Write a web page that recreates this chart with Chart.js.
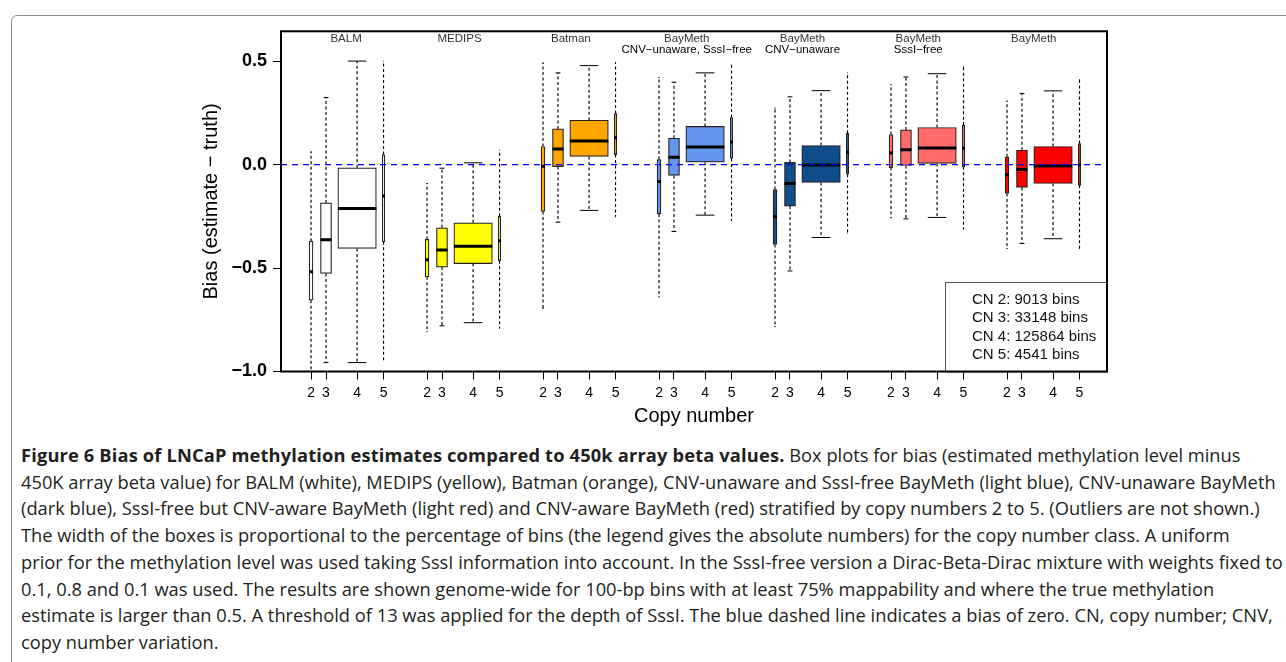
<!DOCTYPE html>
<html><head><meta charset="utf-8">
<script src="https://cdn.jsdelivr.net/npm/chart.js@4.4.1/dist/chart.umd.min.js"></script>
<style>
html,body{margin:0;padding:0;background:#fff;width:1286px;height:662px;overflow:hidden;}
#frame{position:absolute;left:11px;top:15px;width:1300px;height:720px;border:1.5px solid #8c8c8c;border-radius:6px;box-sizing:border-box;}
#wrap{position:absolute;left:0;top:0;width:1286px;height:440px;}
#caption{position:absolute;left:21px;top:442px;font-family:"Open Sans",sans-serif;font-size:18.3px;line-height:26.7px;color:#231f20;white-space:nowrap;}
#caption b{font-weight:700;letter-spacing:0.15px;}
</style></head><body>
<div id="frame"></div>
<div id="wrap"><canvas id="c" width="1286" height="440"></canvas></div>
<div id="caption">
<div><b>Figure 6 Bias of LNCaP methylation estimates compared to 450k array beta values.</b> Box plots for bias (estimated methylation level minus</div>
<div>450K array beta value) for BALM (white), MEDIPS (yellow), Batman (orange), CNV-unaware and SssI-free BayMeth (light blue), CNV-unaware BayMeth</div>
<div>(dark blue), SssI-free but CNV-aware BayMeth (light red) and CNV-aware BayMeth (red) stratified by copy numbers 2 to 5. (Outliers are not shown.)</div>
<div>The width of the boxes is proportional to the percentage of bins (the legend gives the absolute numbers) for the copy number class. A uniform</div>
<div>prior for the methylation level was used taking SssI information into account. In the SssI-free version a Dirac-Beta-Dirac mixture with weights fixed to</div>
<div>0.1, 0.8 and 0.1 was used. The results are shown genome-wide for 100-bp bins with at least 75% mappability and where the true methylation</div>
<div>estimate is larger than 0.5. A threshold of 13 was applied for the depth of SssI. The blue dashed line indicates a bias of zero. CN, copy number; CNV,</div>
<div>copy number variation.</div>
</div>
<script>
// ---------------- data ----------------
const groupTitles = ['BALM','MEDIPS','Batman','BayMeth','BayMeth','BayMeth','BayMeth'];
const groupSubtitles = ['','','','CNV\u2212unaware, SssI\u2212free','CNV\u2212unaware','SssI\u2212free',''];
const groupColors = ['#ffffff','#ffff00','#ffa500','#6495ed','#104e8b','#ff6a6a','#ff0000'];
const copyNumbers = ['2','3','4','5'];
const binCounts = [9013, 33148, 125864, 4541];
const whiskerMin = [
  [-1.000,-0.957,-0.957,-0.944],
  [-0.808,-0.779,-0.764,-0.791],
  [-0.695,-0.278,-0.221,-0.252],
  [-0.639,-0.323,-0.244,-0.271],
  [-0.783,-0.514,-0.352,-0.331],
  [-0.257,-0.262,-0.255,-0.312],
  [-0.405,-0.381,-0.358,-0.405]];
const quartile1 = [
  [-0.655,-0.526,-0.405,-0.373],
  [-0.542,-0.495,-0.478,-0.465],
  [-0.226,-0.009, 0.040, 0.049],
  [-0.238,-0.052, 0.012, 0.030],
  [-0.386,-0.200,-0.086,-0.046],
  [-0.014,-0.004, 0.006,-0.010],
  [-0.139,-0.110,-0.091,-0.100]];
const medians = [
  [-0.518,-0.363,-0.212,-0.151],
  [-0.460,-0.413,-0.394,-0.368],
  [-0.007, 0.076, 0.114, 0.130],
  [-0.081, 0.036, 0.086, 0.110],
  [-0.252,-0.091,-0.002, 0.060],
  [ 0.056, 0.072, 0.081, 0.080],
  [-0.049,-0.023,-0.006, 0.000]];
const quartile3 = [
  [-0.370,-0.185,-0.015, 0.049],
  [-0.361,-0.305,-0.281,-0.249],
  [ 0.088, 0.173, 0.215, 0.247],
  [ 0.025, 0.128, 0.185, 0.228],
  [-0.120, 0.011, 0.093, 0.152],
  [ 0.146, 0.168, 0.180, 0.191],
  [ 0.038, 0.070, 0.088, 0.102]];
const whiskerMax = [
  [ 0.062, 0.325, 0.501, 0.500],
  [-0.091,-0.017, 0.009, 0.070],
  [ 0.492, 0.444, 0.479, 0.494],
  [ 0.421, 0.399, 0.444, 0.482],
  [ 0.273, 0.328, 0.358, 0.444],
  [ 0.387, 0.424, 0.440, 0.476],
  [ 0.308, 0.344, 0.357, 0.412]];
const yTickValues = [-1.0, -0.5, 0.0, 0.5];
const yTickLabels = ['\u22121.0', '\u22120.5', '0.0', '0.5'];

// ---------------- layout / style ----------------
const cnOffset = [0, 0.129, 0.397, 0.625];
const groupLabelOffset = [0.302, 0.280, 0.240, 0.239, 0.237, 0.235, 0.231];
const X_MIN = 0.741, X_MAX = 7.862, Y_MIN = -1.0, Y_MAX = 0.645;
const MAX_BOX_PX = 37.3, BOX_BORDER = 1.2;
const maxCount = Math.max(...binCounts);
const boxPx = binCounts.map(n => MAX_BOX_PX * n / maxCount + BOX_BORDER);
const pos = (g, c) => g + 1 + cnOffset[c];

const tickPositions = [];
groupTitles.forEach((_, g) => copyNumbers.forEach((_, c) => tickPositions.push(pos(g, c))));

Chart.defaults.font.family = '"Liberation Sans", Arial, sans-serif';
Chart.defaults.color = '#000';

const datasets = [];
// boxes
copyNumbers.forEach((cn, c) => {
  datasets.push({
    type: 'bar', label: 'CN ' + cn, stack: 'boxes', order: 3,
    data: groupTitles.map((_, g) => ({x: pos(g, c), y: [quartile1[g][c], quartile3[g][c]]})),
    backgroundColor: groupColors, borderColor: '#222', borderWidth: BOX_BORDER,
    borderSkipped: false, barThickness: boxPx[c]
  });
});
// whiskers
const whiskerData = [];
groupTitles.forEach((_, g) => copyNumbers.forEach((_, c) => {
  const x = pos(g, c);
  whiskerData.push({x, y: quartile3[g][c]}, {x, y: whiskerMax[g][c]}, {x, y: null},
                   {x, y: quartile1[g][c]}, {x, y: whiskerMin[g][c]}, {x, y: null});
}));
datasets.push({type: 'line', label: 'whiskers', order: 4, data: whiskerData, spanGaps: false,
  borderColor: '#000', borderWidth: 1.15, borderDash: [3, 2.5], pointRadius: 0, fill: false});
// caps
const capData = [], capRadius = [];
groupTitles.forEach((_, g) => copyNumbers.forEach((_, c) => {
  const x = pos(g, c);
  capData.push({x, y: whiskerMin[g][c]}, {x, y: whiskerMax[g][c]});
  capRadius.push((boxPx[c] - BOX_BORDER) / 4, (boxPx[c] - BOX_BORDER) / 4);
}));
datasets.push({type: 'scatter', label: 'caps', order: 2, data: capData, showLine: false,
  pointStyle: 'line', pointRadius: capRadius, pointHoverRadius: capRadius,
  pointBorderColor: '#000', pointBorderWidth: 1});
// medians
const medData = [], medRadius = [];
groupTitles.forEach((_, g) => copyNumbers.forEach((_, c) => {
  medData.push({x: pos(g, c), y: medians[g][c]});
  medRadius.push(boxPx[c] / 2);
}));
datasets.push({type: 'scatter', label: 'medians', order: 1, data: medData, showLine: false,
  pointStyle: 'line', pointRadius: medRadius, pointHoverRadius: medRadius,
  pointBorderColor: '#000', pointBorderWidth: 3});
// zero reference line
datasets.push({type: 'line', label: 'zero', order: 0, data: [{x: X_MIN, y: 0}, {x: X_MAX, y: 0}],
  borderColor: '#0000ff', borderWidth: 1.3, borderDash: [6, 5], pointRadius: 0, fill: false});

const decorPlugin = {
  id: 'decor',
  afterDraw(chart) {
    const {ctx, chartArea: a, scales: {x}} = chart;
    ctx.save();
    // group labels
    ctx.textAlign = 'center'; ctx.textBaseline = 'middle';
    ctx.font = '11.5px "Liberation Sans", Arial, sans-serif';
    groupTitles.forEach((t, g) => {
      const px = x.getPixelForValue(g + 1 + groupLabelOffset[g]);
      ctx.fillStyle = '#333';
      ctx.fillText(t, px, a.top + 8);
      if (groupSubtitles[g]) { ctx.fillStyle = '#000'; ctx.fillText(groupSubtitles[g], px, a.top + 19); }
    });
    // legend
    const w = 162, h = 89.5, lx = a.right - w, ly = a.bottom - h;
    ctx.fillStyle = '#fff'; ctx.fillRect(lx, ly, w, h);
    ctx.strokeStyle = '#555'; ctx.lineWidth = 1;
    ctx.strokeRect(lx + 0.5, ly + 0.5, w, h);
    ctx.fillStyle = '#111'; ctx.textAlign = 'left';
    ctx.font = '15px "Liberation Sans", Arial, sans-serif';
    copyNumbers.forEach((cn, i) => {
      ctx.fillText('CN ' + cn + ': ' + binCounts[i] + ' bins', lx + 27, ly + 18 + i * 18.2);
    });
    // plot frame
    ctx.strokeStyle = '#000'; ctx.lineWidth = 2;
    ctx.strokeRect(a.left, a.top, a.right - a.left, a.bottom - a.top);
    ctx.restore();
  }
};

new Chart(document.getElementById('c'), {
  type: 'bar',
  data: {datasets},
  plugins: [decorPlugin],
  options: {
    responsive: false, maintainAspectRatio: false, animation: false, events: [],
    devicePixelRatio: 1,
    layout: {padding: {left: 0, top: 31.3, right: 179, bottom: 8.5}},
    plugins: {legend: {display: false}, tooltip: {enabled: false}},
    scales: {
      x: {
        type: 'linear', min: X_MIN, max: X_MAX, offset: false,
        afterFit: s => { s.height = 60; },
        afterBuildTicks: s => { s.ticks = tickPositions.map(v => ({value: v})); },
        ticks: {autoSkip: false, maxRotation: 0, minRotation: 0, padding: 5,
          font: {size: 14}, color: '#000',
          callback: (v, i) => copyNumbers[i % copyNumbers.length]},
        grid: {drawOnChartArea: false, drawTicks: true, tickLength: 8, color: '#000', lineWidth: 1, offset: false},
        border: {display: false},
        title: {display: true, text: 'Copy number', font: {size: 20}, color: '#000', padding: {top: 0, bottom: 3.5}}
      },
      y: {
        type: 'linear', min: Y_MIN, max: Y_MAX, stacked: false,
        afterFit: s => { s.width = 281; },
        afterBuildTicks: s => { s.ticks = yTickValues.map(v => ({value: v})); },
        ticks: {padding: 6, font: {size: 18, weight: 'bold'}, color: '#000',
          callback: (v, i) => yTickLabels[i]},
        grid: {drawOnChartArea: false, drawTicks: true, tickLength: 8, color: '#000', lineWidth: 1},
        border: {display: false},
        title: {display: true, text: 'Bias (estimate \u2212 truth)', font: {size: 20}, color: '#000', padding: {top: 199.7, bottom: 0}}
      }
    }
  }
});
</script>
</body></html>
